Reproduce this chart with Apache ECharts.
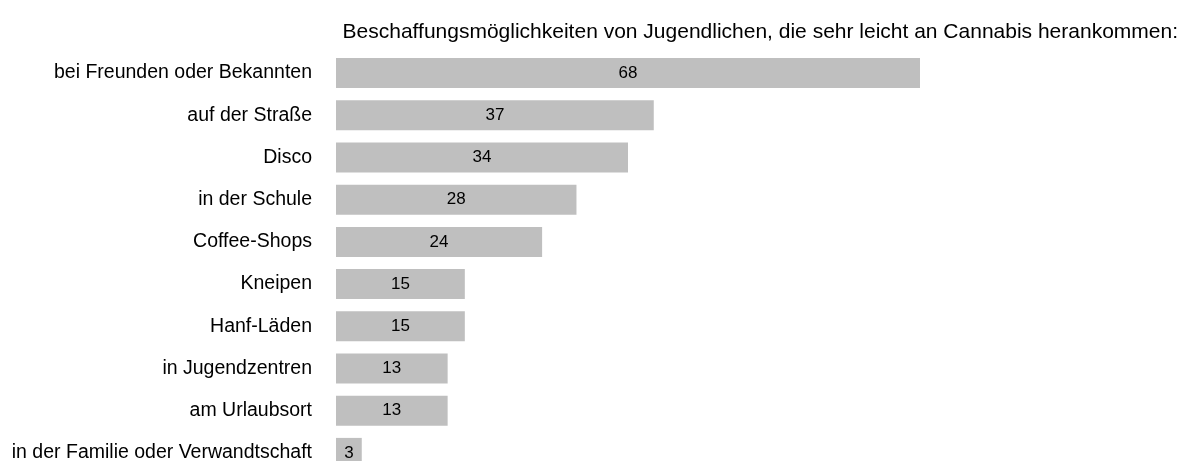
<!DOCTYPE html>
<html>
<head>
<meta charset="utf-8">
<script src="https://cdn.jsdelivr.net/npm/echarts@6/dist/echarts.min.js"></script>
<style>
  html, body { margin: 0; padding: 0; background: #fff; }
  #chart { width: 1193px; height: 461px; }
</style>
</head>
<body>
<div id="chart"></div>
<script>
const titleText = "Beschaffungsmöglichkeiten von Jugendlichen, die sehr leicht an Cannabis herankommen:";
const categories = [
    "bei Freunden oder Bekannten",
    "auf der Straße",
    "Disco",
    "in der Schule",
    "Coffee-Shops",
    "Kneipen",
    "Hanf-Läden",
    "in Jugendzentren",
    "am Urlaubsort",
    "in der Familie oder Verwandtschaft"
];
const values = [68, 37, 34, 28, 24, 15, 15, 13, 13, 3];

const initChart = () => {
    const myChart = echarts.init(document.getElementById("chart"));
    const font = "'Liberation Sans', Arial, sans-serif";
    const option = {
        animation: false,
        title: {
            text: titleText,
            right: 10,
            top: 17,
            textStyle: { fontFamily: font, fontSize: 21, fontWeight: "normal", color: "#000" }
        },
        grid: { left: 336, top: 52, width: 584, bottom: -13, outerBoundsMode: "none" },
        xAxis: {
            type: "value",
            min: 0,
            max: 68,
            show: false
        },
        yAxis: {
            type: "category",
            data: categories,
            inverse: true,
            axisLine: { show: false },
            axisTick: { show: false },
            axisLabel: { margin: 24, color: "#000", fontFamily: font, fontSize: 19.5 }
        },
        series: [{
            type: "bar",
            data: values,
            barWidth: 30,
            itemStyle: { color: "#BFBFBF" },
            label: {
                show: true,
                position: "inside",
                color: "#000",
                fontFamily: font,
                fontSize: 17
            }
        }]
    };
    myChart.setOption(option);
};

window.addEventListener("load", initChart);
</script>
</body>
</html>
